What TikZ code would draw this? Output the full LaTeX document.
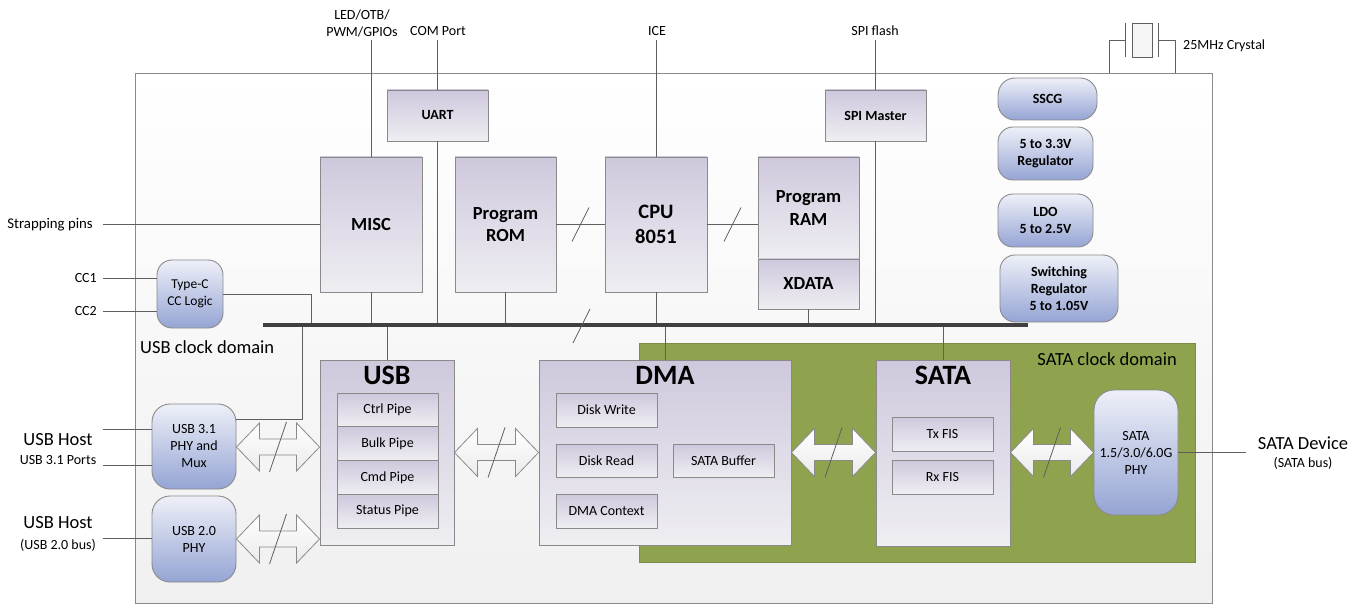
\documentclass[tikz,border=0pt]{standalone}
\usepackage{fontspec}
\setmainfont{Carlito}
\usetikzlibrary{calc}
\definecolor{linegray}{HTML}{5F5F5F}
\definecolor{boxgray}{HTML}{8A8A8A}
\definecolor{lavtop}{HTML}{CFC8DD}
\definecolor{lavbot}{HTML}{EFEEF2}
\definecolor{bluetop}{HTML}{EEF0F8}
\definecolor{bluebot}{HTML}{95A4D4}
\definecolor{satagreen}{HTML}{8FA34F}
\definecolor{greenedge}{HTML}{7B8C44}
\definecolor{busgray}{HTML}{404040}
\definecolor{outerbot}{HTML}{F0F0F0}
\newcommand{\myfs}[2]{\fontsize{#1}{#2}\selectfont}
\newcommand{\blockarrow}[3]{%
  \coordinate (ba1) at (#1.east |- 0,#3);
  \coordinate (ba2) at (#2.west |- 0,#3);
  \draw[arr] (ba1) -- ++(23,-24) -- ++(0,16) -- ($(ba2)+(-23,-8)$) -- ++(0,-16) -- (ba2)
    -- ++(-23,24) -- ++(0,-16) -- ($(ba1)+(23,8)$) -- ++(0,16) -- cycle;
  \draw[slash] ($(ba1)!0.5!(ba2)+(-8.5,25)$) -- ++(17,-50);
}
\begin{document}
\begin{tikzpicture}[x=1pt,y=-1pt,
  conn/.style={draw=linegray, line width=0.8pt},
  lbox/.style={draw=boxgray, line width=0.9pt, top color=lavtop, bottom color=lavbot,
    inner sep=0pt, align=center, font=\bfseries\myfs{18.5}{22.5}},
  sbox/.style={lbox, font=\myfs{14}{17}, minimum width=101pt},
  bbox/.style={draw=boxgray, line width=0.9pt, rounded corners=15pt, top color=bluetop,
    bottom color=bluebot, inner sep=0pt, align=center, font=\myfs{14}{17}},
  rbox/.style={bbox, font=\bfseries\myfs{14}{17}},
  lbl/.style={inner sep=1pt, align=center, font=\myfs{14}{17}},
  big/.style={inner sep=1pt, align=center, font=\myfs{18.5}{22}},
  ttl/.style={inner sep=0pt, font=\bfseries\myfs{28}{34}},
  arr/.style={draw=boxgray, line width=0.8pt, top color=white, bottom color=white!92!black},
  slash/.style={draw=linegray, line width=0.8pt}]
\useasboundingbox (0,0) rectangle (1369,604);
% chip outline
\draw[draw=boxgray, line width=0.9pt, top color=white, bottom color=outerbot] (135,73) rectangle (1212,603);
% SATA clock domain
\draw[draw=greenedge, line width=0.9pt, fill=satagreen] (639,343) rectangle (1195,562);
\node[big, anchor=east, inner sep=0pt] (satadom) at (1177,359) {SATA clock domain};
\node[big, anchor=west, inner sep=0pt] (usbdom) at (140,347) {USB clock domain};

% top blocks
\node[lbox, minimum width=101pt, minimum height=51pt, font=\bfseries\myfs{14}{17}] (uart) at (437.5,115.5) {UART};
\node[lbox, minimum width=101pt, minimum height=51pt, font=\bfseries\myfs{14}{17}] (spi) at (875.5,115.5) {SPI Master};
\node[lbox, minimum width=102pt, minimum height=135pt] (misc) at (371,224.5) {MISC};
\node[lbox, minimum width=101pt, minimum height=135pt] (rom) at (505.5,224.5) {Program\\ROM};
\node[lbox, minimum width=102pt, minimum height=135pt, font=\bfseries\myfs{20.5}{25}] (cpu) at (656,224.5) {CPU\\8051};
\node[lbox, minimum width=101pt, minimum height=102pt] (ram) at (808.5,208) {Program\\RAM};
\node[lbox, minimum width=101pt, minimum height=50pt] (xdata) at (808.5,284) {XDATA};

% right column
\node[rbox, rounded corners=17pt, minimum width=99pt, minimum height=42pt] (sscg) at (1047.5,99) {SSCG};
\node[rbox, minimum width=95pt, minimum height=53pt] (reg33) at (1045.5,153.5) {5 to 3.3V\\Regulator};
\node[rbox, minimum width=95pt, minimum height=53pt] (ldo) at (1045.5,220.5) {LDO\\5 to 2.5V};
\node[rbox, minimum width=118pt, minimum height=67pt] (swreg) at (1059,288.5) {Switching\\Regulator\\5 to 1.05V};

% left PHYs
\node[bbox, font=\myfs{13.5}{16.5}, minimum width=66pt, minimum height=68pt] (typec) at (190,294) {Type-C\\CC Logic};
\node[bbox, rounded corners=18pt, minimum width=84pt, minimum height=85pt] (phy31) at (194,446.5) {USB 3.1\\PHY and\\Mux};
\node[bbox, rounded corners=18pt, minimum width=84pt, minimum height=86pt] (phy20) at (194,539) {USB 2.0\\PHY};

% USB block
\node[lbox, minimum width=134pt, minimum height=185pt] (usb) at (387,452.5) {};
\node[ttl] (usbt) at ($(usb.north)+(0,16)$) {USB};
\node[sbox, minimum height=33.75pt] (ctrl) at (387.5,409.9) {Ctrl Pipe};
\node[sbox, minimum height=33.75pt] (bulk) at (387.5,443.6) {Bulk Pipe};
\node[sbox, minimum height=33.75pt] (cmd) at (387.5,477.4) {Cmd Pipe};
\node[sbox, minimum height=33.75pt] (status) at (387.5,511.1) {Status Pipe};

% DMA block
\node[lbox, minimum width=252pt, minimum height=185pt] (dma) at (665,452.5) {};
\node[ttl] (dmat) at ($(dma.north)+(0,16)$) {DMA};
\node[sbox, minimum height=34pt] (diskw) at (606.5,410) {Disk Write};
\node[sbox, minimum height=33pt] (diskr) at (606.5,460.5) {Disk Read};
\node[sbox, minimum height=34pt] (dmactx) at (606.5,511) {DMA Context};
\node[sbox, minimum height=33pt] (satabuf) at (723.5,460.5) {SATA Buffer};

% SATA block
\node[lbox, minimum width=134pt, minimum height=186pt] (sata) at (943,453) {};
\node[ttl] (satat) at ($(sata.north)+(0,16)$) {SATA};
\node[sbox, minimum height=34pt] (txfis) at (942.5,434) {Tx FIS};
\node[sbox, minimum height=34pt] (rxfis) at (942.5,477) {Rx FIS};
\node[bbox, rounded corners=20pt, minimum width=84pt, minimum height=125pt] (sataphy) at (1136,452.5) {SATA\\1.5/3.0/6.0G\\PHY};

% external labels
\coordinate (toprow) at (0,40);
\coordinate (leftcol) at (103,0);
\node[lbl] (led) at (362,23) {LED/OTB/\\PWM/GPIOs};
\node[lbl] (com) at (438,31) {COM Port};
\node[lbl] (ice) at (657,31) {ICE};
\node[lbl] (spiflash) at (875,31) {SPI flash};
\node[lbl, anchor=east, font=\myfs{14.8}{18}] (straps) at (94,225) {Strapping pins};
\node[lbl, anchor=east] (cc1) at (98,278) {CC1};
\node[lbl, anchor=east] (cc2) at (98,311) {CC2};
\node[big] (host1) at (58,440) {USB Host};
\node[lbl] (host1s) at (58,460) {USB 3.1 Ports};
\node[big] (host2) at (58,523) {USB Host};
\node[lbl] (host2s) at (58,545) {(USB 2.0 bus)};
\node[big] (satadevl) at (1303,443) {SATA Device};
\node[lbl] (satadevs) at (1303,463) {(SATA bus)};
\node[lbl, anchor=west] (xtal) at (1182,46) {25MHz Crystal};

% crystal symbol
\draw[conn] (1109,73) -- (1109,40) -- (1125,40);
\draw[conn] (1125,23) -- (1125,57);
\draw[conn, fill=white!96!black] (1132,23) rectangle (1152,57);
\draw[conn] (1158,23) -- (1158,57);
\draw[conn] (1158,40) -- (1175,40) -- (1175,73);

% bus coordinates
\coordinate (busL) at (263,325);
\coordinate (busR) at (1028,325);
\coordinate (tcbus) at (311,325);
\coordinate (phybus) at (302,325);
\coordinate (busslash) at (581.5,326);

% external connectors
\draw[conn] (misc.north |- toprow) -- (misc.north);
\draw[conn] (uart.north |- toprow) -- (uart.north);
\draw[conn] (cpu.north |- toprow) -- (cpu.north);
\draw[conn] (spi.north |- toprow) -- (spi.north);
\draw[conn] (leftcol |- misc.west) -- (misc.west);
\draw[conn] (leftcol |- cc1.east) -- (cc1.east -| typec.west);
\draw[conn] (leftcol |- cc2.east) -- (cc2.east -| typec.west);
\draw[conn] (leftcol |- 0,429) -- (phy31.west |- 0,429);
\draw[conn] (leftcol |- 0,465) -- (phy31.west |- 0,465);
\draw[conn] (leftcol |- 0,538) -- (phy20.west |- 0,538);
\coordinate (satadev) at (1246,452.5);
\draw[conn] (sataphy.east) -- (satadev);

% internal connectors
\draw[conn] (uart.south) -- (uart.south |- busL);
\draw[conn] (spi.south) -- (spi.south |- busL);
\draw[conn] (misc.south) -- (misc.south |- busL);
\draw[conn] (rom.south) -- (rom.south |- busL);
\draw[conn] (cpu.south) -- (cpu.south |- busL);
\draw[conn] (xdata.south) -- (xdata.south |- busL);
\draw[conn] (rom.east) -- (cpu.west);
\draw[slash] ($(rom.east)!0.5!(cpu.west)+(-8.5,17)$) -- ++(17,-34);
\draw[conn] (cpu.east) -- (cpu.east -| ram.west);
\draw[slash] ($(cpu.east)!0.5!(cpu.east -| ram.west)+(-8.5,17)$) -- ++(17,-34);
\draw[conn] (typec.east) -| (tcbus);
\draw[conn] ([yshift=27.5pt]phy31.east) -| (phybus);
\draw[conn] (usb.north) -- (usb.north |- busL);
\draw[conn] (dma.north) -- (dma.north |- busL);
\draw[conn] (sata.north) -- (sata.north |- busL);

% bus
\draw[busgray, line width=4pt] (busL) -- (busR);
\draw[slash] ($(busslash)+(-8.5,17)$) -- ++(17,-34);

% block arrows
\blockarrow{phy31}{usb}{447}
\blockarrow{phy20}{usb}{539}
\blockarrow{usb}{dma}{452.5}
\blockarrow{dma}{sata}{452.5}
\blockarrow{sata}{sataphy}{452.5}
\end{tikzpicture}
\end{document}
